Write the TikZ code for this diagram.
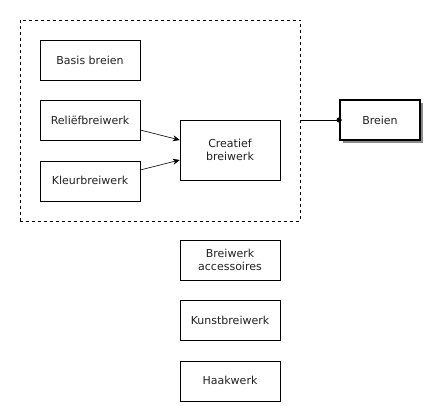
\documentclass[tikz,border=0pt]{standalone}
\usepackage{fontspec}
\setmainfont{DejaVu Sans}
\usepackage{tikz}
\usetikzlibrary{arrows.meta,positioning,fit,shadows}
\definecolor{inktext}{HTML}{222222}
\tikzset{
  topic/.style={draw=black,fill=white,minimum width=100pt,minimum height=40pt,
    align=center,inner sep=2pt,text=inktext,font=\fontsize{11}{12.5}\selectfont},
  mainbox/.style={topic,minimum width=80pt,line width=1.8pt,
    drop shadow={shadow xshift=3pt,shadow yshift=-3pt,fill=black!45,opacity=1}},
  group/.style={draw=black,dashed,dash pattern=on 3pt off 3pt,inner sep=20pt},
  arrow/.style={-{Stealth[length=7pt,width=6pt]},draw=black,semithick},
  link/.style={-{Circle[length=5pt]},shorten >=-2.5pt,draw=black,thin}
}
\begin{document}
\begin{tikzpicture}[x=1pt,y=-1pt,node distance=20pt]
  \useasboundingbox (0,0) rectangle (428,405);
  \node[topic] (basis) at (90,60) {Basis breien};
  \node[topic,below=of basis] (relief) {Reliëfbreiwerk};
  \node[topic,below=of relief] (kleur) {Kleurbreiwerk};
  \node[topic,minimum height=60pt] (creatief) at (230,150) {Creatief\\breiwerk};
  \node[group,fit=(basis)(kleur)(creatief)] (breigroep) {};
  \node[mainbox] (breien) at (380,120) {Breien};
  \node[topic] (accessoires) at (230,260) {Breiwerk\\accessoires};
  \node[topic,below=of accessoires] (kunst) {Kunstbreiwerk};
  \node[topic,below=of kunst] (haak) {Haakwerk};
  \draw[arrow] (relief.east|-130,130) -- (creatief.west|-140,140);
  \draw[arrow] (kleur.east|-170,170) -- (creatief.west|-160,160);
  \draw[link] (breigroep.east|-breien.west) -- (breien.west);
\end{tikzpicture}
\end{document}
